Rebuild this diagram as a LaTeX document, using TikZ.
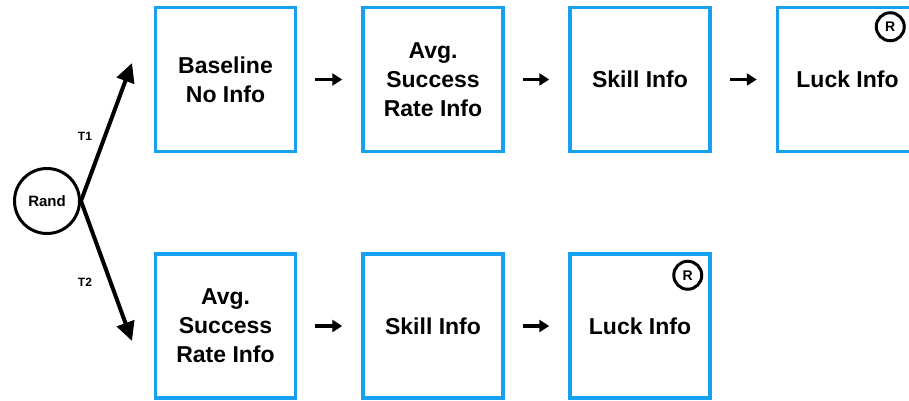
\documentclass[tikz,border=0pt]{standalone}
\usepackage{fontspec}
\setmainfont{Liberation Sans}
\usetikzlibrary{arrows.meta,calc}
\definecolor{boxblue}{RGB}{24,160,240}
\tikzset{
  stagebox/.style={draw=boxblue, line width=3.5pt, minimum width=140pt, minimum height=144pt, inner sep=0pt, align=center, font=\fontsize{23}{29}\selectfont\bfseries},
  randnode/.style={draw=black, circle, line width=3pt, minimum size=65pt, inner sep=0pt, font=\fontsize{15}{18}\selectfont\bfseries},
  rmark/.style={draw=black, circle, line width=3pt, minimum size=28pt, inner sep=0pt, font=\fontsize{14}{16}\selectfont\bfseries},
  branch/.style={line width=4pt, -{Triangle[length=19pt,width=18pt]}},
  stepar/.style={line width=3.5pt, -{Triangle[length=10pt,width=12pt]}},
  tlabel/.style={font=\fontsize{12}{14}\selectfont\bfseries}
}
\begin{document}
\begin{tikzpicture}[x=1pt,y=-1pt]
\useasboundingbox (0,0) rectangle (909,401);
% Rand node
\node[randnode] (rand) at (47,201) {Rand};
\coordinate (t1end) at (132,63);
\coordinate (t2end) at (132,341);
\draw[branch] (rand.east) -- (t1end);
\draw[branch] (rand.east) -- (t2end);
\node[tlabel] (t1) at (85,136) {T1};
\node[tlabel] (t2) at (85,282) {T2};
% top row
\node[stagebox] (a1) at (225.5,79.5) {Baseline\\No Info};
\node[stagebox] (a2) at (433,79.5) {Avg.\\Success\\Rate Info};
\node[stagebox] (a3) at (640,79.5) {Skill Info};
\node[stagebox] (a4) at (847.5,79.5) {Luck Info};
\node[rmark] (r1) at ($(a4.north east)+(-29,21)$) {R};
\draw[stepar] ($(a1.east)+(18,0)$) -- ($(a2.west)+(-19,0)$);
\draw[stepar] ($(a2.east)+(18,0)$) -- ($(a3.west)+(-19,0)$);
\draw[stepar] ($(a3.east)+(18,0)$) -- ($(a4.west)+(-19,0)$);
% bottom row
\node[stagebox] (b1) at (225.5,326) {Avg.\\Success\\Rate Info};
\node[stagebox] (b2) at (433,326) {Skill Info};
\node[stagebox] (b3) at (640,326) {Luck Info};
\node[rmark] (r2) at ($(b3.north east)+(-24,23)$) {R};
\draw[stepar] ($(b1.east)+(18,0)$) -- ($(b2.west)+(-19,0)$);
\draw[stepar] ($(b2.east)+(18,0)$) -- ($(b3.west)+(-19,0)$);
\end{tikzpicture}
\end{document}
